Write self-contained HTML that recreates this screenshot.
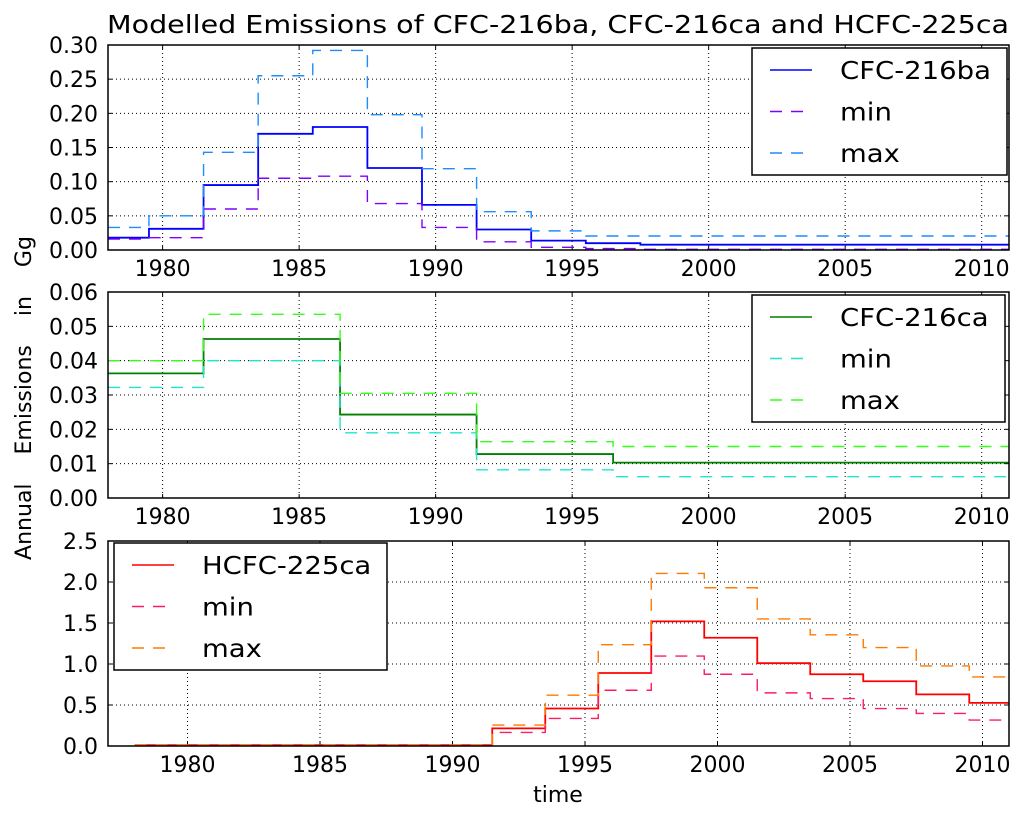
<!DOCTYPE html>
<html><head><meta charset="utf-8"><style>
body{margin:0;background:#fff;}
svg{display:block;font-family:"DejaVu Sans","Liberation Sans",sans-serif;}
</style></head><body>
<svg id="fig" width="1024" height="814" viewBox="0 0 1024 814" xmlns="http://www.w3.org/2000/svg">
<rect width="1024" height="814" fill="#fff"/>
<text x="107" y="33" font-size="25" textLength="902" lengthAdjust="spacingAndGlyphs">Modelled Emissions of CFC-216ba, CFC-216ca and HCFC-225ca</text>
<text transform="translate(31,398) rotate(-90)" font-size="22" text-anchor="middle" word-spacing="22">Annual Emissions in Gg</text>
<text x="558" y="802" font-size="22" text-anchor="middle">time</text>
</svg>
<script>
// ---- data ----
const edges1 = [1978,1979.5,1981.5,1983.5,1985.5,1987.5,1989.5,1991.5,1993.5,1995.5,1997.5,2011];
const ba_mid = [0.018,0.031,0.095,0.170,0.180,0.120,0.066,0.030,0.0137,0.010,0.0078];
const ba_min = [0.016,0.018,0.060,0.105,0.108,0.068,0.033,0.012,0.004,0.002,0.001];
const ba_max = [0.033,0.050,0.143,0.255,0.292,0.198,0.119,0.056,0.028,0.0205,0.0205];
const edges2 = [1978,1981.5,1986.5,1991.5,1996.5,2011];
const ca_mid = [0.0363,0.0463,0.0243,0.0128,0.0103];
const ca_min = [0.0322,0.040,0.019,0.0082,0.0062];
const ca_max = [0.040,0.0535,0.0305,0.0164,0.015];
const edges3 = [1978,1991.5,1993.5,1995.5,1997.5,1999.5,2001.5,2003.5,2005.5,2007.5,2009.5,2011];
const hc_mid = [0.01,0.215,0.457,0.89,1.52,1.32,1.01,0.875,0.79,0.63,0.526];
const hc_min = [0.01,0.166,0.336,0.68,1.097,0.875,0.648,0.579,0.457,0.397,0.316];
const hc_max = [0.01,0.255,0.62,1.235,2.105,1.93,1.55,1.356,1.20,0.976,0.842];
const xTicks = [1980,1985,1990,1995,2000,2005,2010];
const yTicks1 = ["0.00","0.05","0.10","0.15","0.20","0.25","0.30"];
const yTicks2 = ["0.00","0.01","0.02","0.03","0.04","0.05","0.06"];
const yTicks3 = ["0.0","0.5","1.0","1.5","2.0","2.5"];
const names1 = ["CFC-216ba","min","max"];
const names2 = ["CFC-216ca","min","max"];
const names3 = ["HCFC-225ca","min","max"];

const NS="http://www.w3.org/2000/svg";
const svg=document.getElementById('fig');
function mk(tag,attrs,parent){const e=document.createElementNS(NS,tag);for(const k in attrs)e.setAttribute(k,attrs[k]);(parent||svg).appendChild(e);return e;}

function panel(id,top,bottom,xmin,xmax,ymax,yTicks,series,legend){
  const L=108,R=1009;
  const g=mk('g',{});
  
  
  const sx=v=>L+(v-xmin)/(xmax-xmin)*(R-L);
  const sy=v=>bottom-v/ymax*(bottom-top);
  xTicks.forEach(t=>{
    const x=sx(t);
    const gl=mk('line',{x1:x,x2:x,y1:top,y2:bottom,stroke:'#000','stroke-width':1,'stroke-dasharray':'1,3'},g);
    
    
    mk('line',{x1:x,x2:x,y1:bottom,y2:bottom-4,stroke:'#000'},g);
    mk('line',{x1:x,x2:x,y1:top,y2:top+4,stroke:'#000'},g);
    const tl=mk('text',{x:x,y:bottom+26,'font-size':22,'text-anchor':'middle'},g);
    tl.textContent=t;
    
    
  });
  yTicks.forEach(lbl=>{
    const y=sy(parseFloat(lbl));
    const gl=mk('line',{x1:L,x2:R,y1:y,y2:y,stroke:'#000','stroke-width':1,'stroke-dasharray':'1,3'},g);
    
    
    mk('line',{x1:L,x2:L+4,y1:y,y2:y,stroke:'#000'},g);
    mk('line',{x1:R,x2:R-4,y1:y,y2:y,stroke:'#000'},g);
    const tl=mk('text',{x:L-10,y:y+8,'font-size':22,'text-anchor':'end'},g);
    tl.textContent=lbl;
    
    
  });
  const clip=mk('clipPath',{id:'clip-'+id},g);
  mk('rect',{x:L,y:top,width:R-L,height:bottom-top},clip);
  series.forEach(s=>{
    let d='';
    for(let i=0;i<s.vals.length;i++){
      const y=sy(s.vals[i]);
      d+=(i===0?'M':'L')+sx(s.edges[i])+','+y+'L'+sx(s.edges[i+1])+','+y;
    }
    const p=mk('path',{d:d,fill:'none',stroke:s.color,'stroke-width':s.dash?1.4:1.8,'stroke-dasharray':s.dash?'12,9':'none','clip-path':'url(#clip-'+id+')'},g);
    
    
  });
  const fr=mk('rect',{x:L,y:top,width:R-L,height:bottom-top,fill:'none',stroke:'#000','stroke-width':1.5},g);
  
  
  const lg=mk('g',{},g);
  
  
  mk('rect',{x:legend.x,y:legend.y,width:legend.w,height:127,fill:'#fff',stroke:'#000','stroke-width':1.5},lg);
  series.forEach((s,i)=>{
    const yy=legend.y+22+i*41.5;
    const e=mk('g',{},lg);
    
    
    mk('line',{x1:legend.x+18,x2:legend.x+60,y1:yy,y2:yy,stroke:s.color,'stroke-width':1.6,'stroke-dasharray':s.dash?'12,9':'none'},e);
    const t=mk('text',{x:legend.x+88,y:yy+9,'font-size':25},e);
    t.textContent=legend.names[i];
    try{const w=t.getComputedTextLength();if(w>0){t.setAttribute('textLength',(w*1.1).toFixed(1));t.setAttribute('lengthAdjust','spacingAndGlyphs');}}catch(err){}
  });
}

panel('cfc-216ba',45,250,1978,2011,0.30,yTicks1,[
  {name:'cfc-216ba-line',edges:edges1,vals:ba_mid,color:'#0000ff',dash:false},
  {name:'cfc-216ba-min',edges:edges1,vals:ba_min,color:'#7f00ff',dash:true},
  {name:'cfc-216ba-max',edges:edges1,vals:ba_max,color:'#1e8cff',dash:true}
],{x:752,y:48,w:255,names:names1});

panel('cfc-216ca',292,498,1978,2011,0.06,yTicks2,[
  {name:'cfc-216ca-line',edges:edges2,vals:ca_mid,color:'#008000',dash:false},
  {name:'cfc-216ca-min',edges:edges2,vals:ca_min,color:'#1fe5d0',dash:true},
  {name:'cfc-216ca-max',edges:edges2,vals:ca_max,color:'#33ff1a',dash:true}
],{x:752,y:295,w:253,names:names2});

panel('hcfc-225ca',541,746,1977,2011,2.5,yTicks3,[
  {name:'hcfc-225ca-line',edges:edges3,vals:hc_mid,color:'#ff0000',dash:false},
  {name:'hcfc-225ca-min',edges:edges3,vals:hc_min,color:'#ff1a66',dash:true},
  {name:'hcfc-225ca-max',edges:edges3,vals:hc_max,color:'#ff7a00',dash:true}
],{x:114,y:543,w:273,names:names3});
</script>
</body></html>
